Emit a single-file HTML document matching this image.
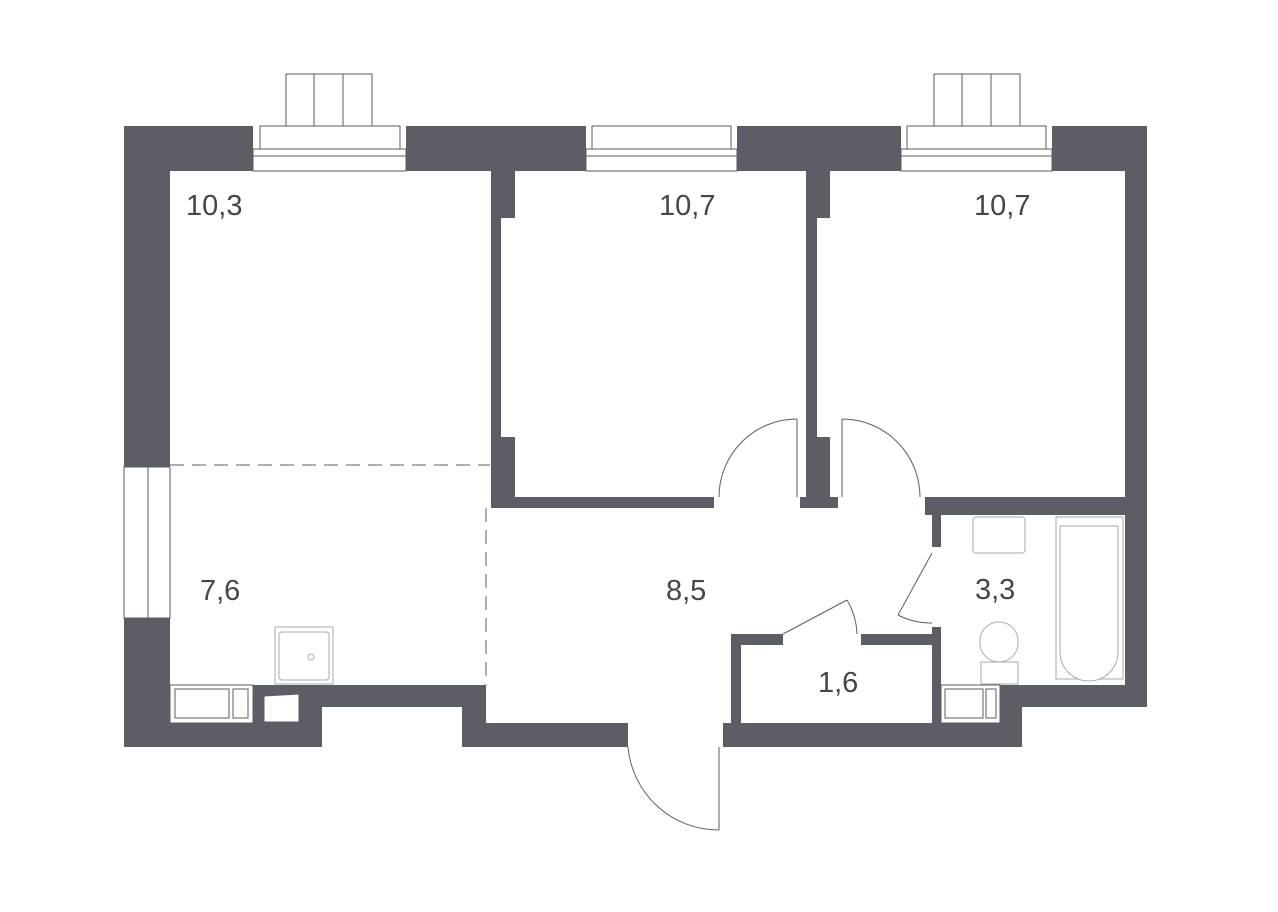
<!DOCTYPE html>
<html><head><style>body{margin:0;background:#fff}svg{display:block}text{font-family:"Liberation Sans",sans-serif;font-size:29px;fill:#44464b}</style></head><body>
<svg width="1278" height="912" viewBox="0 0 1278 912" xmlns="http://www.w3.org/2000/svg">
<g fill="#5b5e64">
<rect x="124" y="126" width="1023" height="45"/>
<rect x="124" y="126" width="46" height="344"/>
<rect x="124" y="617" width="46" height="130"/>
<rect x="124" y="685" width="198" height="62"/>
<rect x="322" y="685" width="140" height="22"/>
<rect x="462" y="685" width="24" height="62"/>
<rect x="462" y="723" width="166" height="24"/>
<rect x="723" y="723" width="299" height="24"/>
<rect x="1000" y="685" width="147" height="22"/>
<rect x="1000" y="685" width="22" height="62"/>
<rect x="1125" y="126" width="22" height="581"/>
<rect x="491" y="171" width="10" height="330"/>
<rect x="491" y="171" width="24" height="47"/>
<rect x="491" y="437" width="24" height="70"/>
<rect x="491" y="497" width="223" height="11"/>
<rect x="806" y="171" width="11" height="330"/>
<rect x="806" y="171" width="24" height="47"/>
<rect x="806" y="437" width="24" height="70"/>
<rect x="800" y="497" width="38" height="11"/>
<rect x="925" y="497" width="200" height="18"/>
<rect x="932" y="497" width="9" height="50"/>
<rect x="932" y="627" width="9" height="96"/>
<rect x="731" y="634" width="10" height="89"/>
<rect x="731" y="634" width="52" height="11"/>
<rect x="861" y="634" width="71" height="11"/>
</g>
<g fill="#fff" stroke="#5b5e64" stroke-width="1">
<rect x="253" y="126" width="153" height="45" stroke="none"/>
<rect x="260" y="126" width="140" height="23"/>
<rect x="253" y="149" width="153" height="7"/>
<rect x="253" y="156" width="153" height="15"/>
<rect x="286" y="74" width="86" height="52"/>
<line x1="314" y1="74" x2="314" y2="126"/><line x1="343" y1="74" x2="343" y2="126"/>
<rect x="586" y="126" width="151" height="45" stroke="none"/>
<rect x="592" y="126" width="139" height="23"/>
<rect x="586" y="149" width="151" height="7"/>
<rect x="586" y="156" width="151" height="15"/>
<rect x="901" y="126" width="151" height="45" stroke="none"/>
<rect x="907" y="126" width="139" height="23"/>
<rect x="901" y="149" width="151" height="7"/>
<rect x="901" y="156" width="151" height="15"/>
<rect x="934" y="74" width="86" height="52"/>
<line x1="962" y1="74" x2="962" y2="126"/><line x1="991" y1="74" x2="991" y2="126"/>
<rect x="124" y="467" width="24" height="151"/>
<rect x="148" y="467" width="22" height="151"/>
<rect x="170" y="685" width="83" height="38"/>
<rect x="175" y="689" width="54" height="29"/><rect x="233" y="689" width="15" height="29"/>
<polygon points="264,696 299,694 299,722 264,722"/>
<rect x="941" y="685" width="59" height="38"/>
<rect x="945" y="689" width="38" height="29"/><rect x="986" y="689" width="10" height="29"/>
<rect x="275" y="627" width="58" height="57" stroke="#aaa"/>
<rect x="279" y="632" width="50" height="48" rx="3" stroke="#aaa"/>
<circle cx="311" cy="657" r="3" stroke="#aaa"/>
<rect x="973" y="517" width="52" height="36" rx="3" stroke="#aaa"/>
<rect x="1056" y="517" width="67" height="162" stroke="#aaa"/>
<path d="M1060 526 H1118 V652 A29 29 0 0 1 1060 652 Z" stroke="#aaa"/>
<rect x="980" y="622" width="38" height="40" rx="19" stroke="#aaa"/>
<rect x="981" y="662" width="37" height="22" stroke="#aaa"/>
</g>
<g fill="none" stroke="#5b5e64" stroke-width="1">
<line x1="170" y1="465" x2="490" y2="465" stroke-dasharray="14 8"/>
<line x1="486" y1="508" x2="486" y2="685" stroke-dasharray="14 8"/>
<line x1="797" y1="419" x2="797" y2="497"/><path d="M797 419 A78 78 0 0 0 719 497"/>
<line x1="842" y1="419" x2="842" y2="497"/><path d="M842 419 A78 78 0 0 1 920 497"/>
<line x1="783" y1="634" x2="847" y2="600"/><path d="M847 600 A72 72 0 0 1 857 634"/>
<line x1="932" y1="553" x2="898" y2="615"/><path d="M898 615 A72 72 0 0 0 932 623"/>
<line x1="719" y1="747" x2="719" y2="830"/><path d="M628 747 A91 91 0 0 0 719 830"/>
</g>
<text x="186" y="215">10,3</text>
<text x="659" y="215">10,7</text>
<text x="974" y="215">10,7</text>
<text x="200" y="600">7,6</text>
<text x="666" y="600">8,5</text>
<text x="975" y="599">3,3</text>
<text x="818" y="692">1,6</text>
</svg>
</body></html>
